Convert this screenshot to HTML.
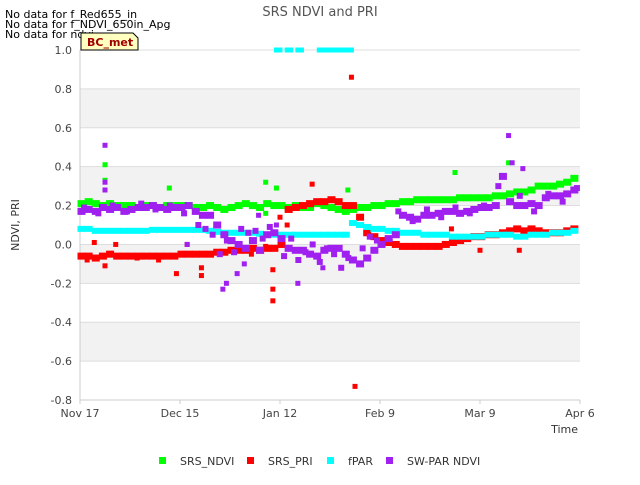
<!DOCTYPE html>
<html><head><meta charset="utf-8"><style>
body{margin:0;background:#fff;font-family:"Liberation Sans","DejaVu Sans",sans-serif}
svg text{font-family:"DejaVu Sans","Liberation Sans",sans-serif}
</style></head><body>
<svg id="c" width="640" height="480" viewBox="0 0 640 480">
<rect width="640" height="480" fill="#fff"/>
<text x="320" y="16" text-anchor="middle" font-size="13" fill="#555">SRS NDVI and PRI</text>
<g font-size="11" fill="#000">
<text x="5" y="18">No data for f_Red655_in</text>
<text x="5" y="28">No data for f_NDVI_650in_Apg</text>
<text x="5" y="38">No data for ndvi</text>
</g>
<g id="bands"></g>
<g id="grid"></g>
<g id="pts"></g>
<path d="M81,50 L81,33 L133,33 L138,38 L138,50 Z" fill="#ffffc0" stroke="#000" stroke-width="1"/>
<text x="87" y="46" font-size="11" font-weight="bold" fill="#a00000">BC_met</text>
<text x="19" y="225" font-size="11" fill="#333" transform="rotate(-90 19 225)" text-anchor="middle">NDVI, PRI</text>
<text x="578" y="433" font-size="11" fill="#333" text-anchor="end">Time</text>
<g id="legend" font-size="11" fill="#333"></g>
</svg>
<script>
const xTickLabels=["Nov 17","Dec 15","Jan 12","Feb 9","Mar 9","Apr 6"];
const yTicks=[1.0,0.8,0.6,0.4,0.2,0.0,-0.2,-0.4,-0.6,-0.8];
const days=[];for(let i=0;i<70;i++)days.push(i*2);
const ndvi=[0.21,0.22,0.21,0.2,0.21,0.2,0.2,0.2,0.19,0.2,0.2,0.19,0.2,0.2,0.2,0.2,0.19,0.19,0.2,0.19,0.18,0.19,0.2,0.21,0.2,0.19,0.21,0.2,0.2,0.19,0.2,0.19,0.19,0.21,0.2,0.19,0.18,0.17,0.18,0.19,0.19,0.2,0.2,0.21,0.21,0.22,0.22,0.23,0.23,0.23,0.23,0.23,0.23,0.24,0.24,0.24,0.24,0.24,0.25,0.25,0.26,0.27,0.27,0.28,0.3,0.3,0.3,0.31,0.32,0.34];
const pri=[-0.06,-0.06,-0.07,-0.06,-0.05,-0.06,-0.06,-0.06,-0.06,-0.06,-0.06,-0.06,-0.06,-0.06,-0.05,-0.05,-0.05,-0.05,-0.05,-0.04,-0.04,-0.03,-0.03,-0.03,-0.02,-0.03,-0.02,-0.02,0.0,0.18,0.19,0.2,0.21,0.22,0.22,0.23,0.22,0.2,0.2,0.14,0.06,0.04,0.02,0.01,0.0,-0.01,-0.01,-0.01,-0.01,-0.01,-0.01,0.0,0.01,0.02,0.03,0.04,0.04,0.05,0.05,0.06,0.07,0.08,0.07,0.08,0.07,0.06,0.06,0.06,0.07,0.08];
const fpar=[0.08,0.08,0.07,0.07,0.07,0.07,0.07,0.07,0.07,0.07,0.075,0.075,0.075,0.075,0.075,0.075,0.075,0.075,0.07,0.065,0.06,0.06,0.06,0.06,0.06,0.055,0.05,0.05,0.05,0.05,0.05,0.05,0.05,0.05,0.05,0.05,0.05,0.05,0.11,0.1,0.09,0.08,0.08,0.07,0.07,0.06,0.06,0.06,0.05,0.05,0.05,0.05,0.04,0.04,0.04,0.04,0.04,0.05,0.05,0.05,0.05,0.04,0.04,0.05,0.05,0.05,0.06,0.06,0.06,0.07];
const swpar=[0.17,0.18,0.17,0.19,0.18,0.19,0.17,0.18,0.19,0.19,0.2,0.19,0.18,0.19,0.19,0.2,0.17,0.15,0.15,0.1,0.05,0.02,0.0,-0.02,0.02,-0.03,0.05,0.06,0.03,-0.02,-0.03,-0.03,-0.05,-0.06,-0.03,-0.02,-0.02,-0.05,-0.08,-0.1,-0.07,-0.03,0.0,0.03,0.05,0.15,0.14,0.13,0.15,0.15,0.16,0.17,0.17,0.16,0.17,0.18,0.19,0.19,0.2,0.35,0.22,0.2,0.2,0.21,0.2,0.24,0.25,0.25,0.26,0.28];
const swExtraDays=[1,5,9,13,17,21,25,29,33,35,37,39,41,43,45,47,49,51,53,57,59,61,63,65,67,69,71,73,75,79,81,83,89,93,97,101,105,109,113,117,123,127,131,135,139];
const swExtraVals=[0.19,0.16,0.2,0.17,0.21,0.18,0.2,0.16,0.1,0.08,0.05,-0.05,0.02,-0.04,0.08,0.06,0.07,0.03,0.09,-0.06,0.03,-0.08,-0.04,0.0,-0.09,-0.02,-0.05,-0.12,-0.07,-0.02,0.04,0.02,0.17,0.12,0.18,0.14,0.19,0.16,0.2,0.3,0.25,0.17,0.26,0.22,0.29];
const ndviOutDays=[7,7,25,52,55,75,105,120,52];
const ndviOutVals=[0.41,0.33,0.29,0.32,0.29,0.28,0.37,0.42,0.16];
const priOutDays=[76,77,54,54,54,27,34,34,7,4,10,58,56,65,104,123,112,30,2,16,22,48,52];
const priOutVals=[0.86,-0.73,-0.29,-0.23,-0.13,-0.15,-0.16,-0.12,-0.11,0.01,0.0,0.1,0.14,0.31,0.08,-0.03,-0.03,0.0,-0.08,-0.07,-0.08,-0.05,-0.01];
const fparOutDays=[55,56,58,59,61,62,67,68,69,70,71,72,73,74,75,76];
const fparOutVals=[1,1,1,1,1,1,1,1,1,1,1,1,1,1,1,1];
const swOutDays=[7,7,7,40,41,44,50,61,68,120,124,121,30,46,55];
const swOutVals=[0.51,0.32,0.28,-0.23,-0.2,-0.15,0.15,-0.2,-0.12,0.56,0.39,0.42,0.0,-0.1,0.1];

const NS="http://www.w3.org/2000/svg";
const X0=80,X1=580,Y0=50,Y1=400;
const xs=d=>X0+d*(X1-X0)/140;
const ys=v=>Y0+(1-v)*(Y1-Y0)/1.8;
function mk(tag,attrs,parent){const e=document.createElementNS(NS,tag);for(const k in attrs)e.setAttribute(k,attrs[k]);parent.appendChild(e);return e;}
const bands=document.getElementById('bands'),grid=document.getElementById('grid'),pts=document.getElementById('pts'),leg=document.getElementById('legend');
for(let i=0;i<yTicks.length-1;i++){if(i%2===1){const r=mk('rect',{x:X0,y:ys(yTicks[i]),width:X1-X0,height:ys(yTicks[i+1])-ys(yTicks[i]),fill:'#f2f2f2'},bands);

}}
yTicks.forEach(v=>{const l=mk('line',{x1:X0,x2:X1,y1:ys(v),y2:ys(v),stroke:'#ddd'},grid);


const t=mk('text',{x:X0-8,y:ys(v)+4,'text-anchor':'end','font-size':11,fill:'#444'},grid);t.textContent=v.toFixed(1);

});
mk('line',{x1:X0,x2:X0,y1:Y0,y2:Y1,stroke:'#ccc'},grid);
mk('line',{x1:X0,x2:X1,y1:Y1,y2:Y1,stroke:'#ccc'},grid);
xTickLabels.forEach((s,i)=>{const x=xs(i*28);mk('line',{x1:x,x2:x,y1:Y1,y2:Y1+4,stroke:'#ccc'},grid);
const t=mk('text',{x:x,y:Y1+17,'text-anchor':'middle','font-size':11,fill:'#444'},grid);t.textContent=s;

});
function series(dd,vv,col,name,w,h){dd.forEach((d,i)=>{const r=mk('rect',{x:xs(d)-2.5,y:ys(vv[i])-h/2,width:w,height:h,fill:col},pts);

});}
series(days,ndvi,'#00ff00','srs-ndvi-point',8,7);
series(ndviOutDays,ndviOutVals,'#00ff00','srs-ndvi-point',5,5);
series(days,pri,'#ff0000','srs-pri-point',8,7);
series(priOutDays,priOutVals,'#ff0000','srs-pri-point',5,5);
series(days,fpar,'#00ffff','fpar-point',8,6);
series(fparOutDays,fparOutVals,'#00ffff','fpar-point',5,5);
series(days,swpar,'#a020f0','sw-par-ndvi-point',8,7);
series(swExtraDays,swExtraVals,'#a020f0','sw-par-ndvi-point',6,6);
series(swOutDays,swOutVals,'#a020f0','sw-par-ndvi-point',5,5);
[["SRS_NDVI","#00ff00",163],["SRS_PRI","#ff0000",251],["fPAR","#00ffff",331],["SW-PAR NDVI","#a020f0",390]].forEach(a=>{
const g=mk('g',{},leg);


mk('rect',{x:a[2]-4,y:457,width:7,height:7,fill:a[1]},g);
const t=mk('text',{x:a[2]+17,y:465},g);t.textContent=a[0];});
</script>
</body></html>
